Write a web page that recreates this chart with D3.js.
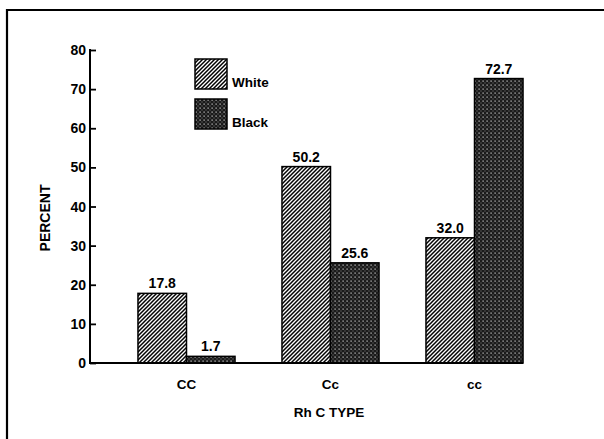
<!DOCTYPE html>
<html>
<head>
<meta charset="utf-8">
<script src="https://cdn.jsdelivr.net/npm/d3@7"></script>
<style>
  html, body { margin: 0; padding: 0; background: #fff; overflow: hidden; }
  svg { display: block; }
  text { font-family: "Liberation Sans", Arial, Helvetica, sans-serif; font-weight: bold; fill: #000; }
</style>
</head>
<body>
<svg id="chart" width="604" height="439"></svg>
<script>
const categories = ["CC", "Cc", "cc"];
const seriesNames = ["White", "Black"];
const whiteValues = [17.8, 50.2, 32.0];
const blackValues = [1.7, 25.6, 72.7];
const valueLabels = [["17.8", "1.7"], ["50.2", "25.6"], ["32.0", "72.7"]];
const yTicks = [0, 10, 20, 30, 40, 50, 60, 70, 80];
const yTitle = "PERCENT";
const xTitle = "Rh C TYPE";

const svg = d3.select("#chart");
const defs = svg.append("defs");

// diagonal hatch for White
const hatch = defs.append("pattern")
  .attr("id", "hatch").attr("patternUnits", "userSpaceOnUse")
  .attr("width", 4).attr("height", 4);
hatch.append("rect").attr("width", 4).attr("height", 4).attr("fill", "#fff");
hatch.append("path")
  .attr("d", "M-1,1 l2,-2 M0,4 l4,-4 M3,5 l2,-2")
  .attr("stroke", "#000").attr("stroke-width", 1.5);

// dark dotted pattern for Black
const dots = defs.append("pattern")
  .attr("id", "dots").attr("patternUnits", "userSpaceOnUse")
  .attr("width", 4).attr("height", 4);
dots.append("rect").attr("width", 4).attr("height", 4).attr("fill", "#1a1a1a");
dots.append("rect").attr("x", 0.5).attr("y", 0.5).attr("width", 1.2).attr("height", 1.2).attr("fill", "#d8d8d8");
dots.append("rect").attr("x", 2.5).attr("y", 2.5).attr("width", 1).attr("height", 1).attr("fill", "#888");

const fills = { White: "url(#hatch)", Black: "url(#dots)" };

// frame
svg.append("line").attr("x1", 7).attr("x2", 604).attr("y1", 10).attr("y2", 10)
  .attr("stroke", "#000").attr("stroke-width", 2.2);
svg.append("line").attr("x1", 7).attr("x2", 7).attr("y1", 9).attr("y2", 439)
  .attr("stroke", "#000").attr("stroke-width", 2.2);

const y = d3.scaleLinear().domain([0, 80]).range([363, 50]);
const x0 = d3.scaleBand().domain(categories).range([114.5, 546.5])
  .paddingInner(0.326).paddingOuter(0.163);
const x1 = d3.scaleBand().domain(seriesNames).range([0, x0.bandwidth()]);

const data = categories.map((c, i) => ({
  cat: c,
  vals: [
    { s: "White", v: whiteValues[i], label: valueLabels[i][0] },
    { s: "Black", v: blackValues[i], label: valueLabels[i][1] }
  ]
}));

// y axis
const yAxis = d3.axisRight(y).tickValues(yTicks).tickSize(6).tickFormat("");
const gy = svg.append("g").attr("transform", "translate(90,0)").call(yAxis);
gy.select(".domain").remove();
gy.selectAll(".tick line").attr("stroke", "#000").attr("stroke-width", 1.8);
svg.append("line").attr("x1", 90).attr("x2", 90).attr("y1", y(80) - 1).attr("y2", y(0) + 1)
  .attr("stroke", "#000").attr("stroke-width", 2);
svg.append("g").selectAll("text").data(yTicks).join("text")
  .attr("x", 86).attr("y", d => y(d)).attr("dy", "0.36em")
  .attr("text-anchor", "end").attr("font-size", 14).text(d => d);

// bars
const groups = svg.append("g").selectAll("g").data(data).join("g")
  .attr("transform", d => `translate(${x0(d.cat)},0)`);
groups.selectAll("rect").data(d => d.vals).join("rect")
  .attr("x", d => x1(d.s)).attr("width", x1.bandwidth())
  .attr("y", d => y(d.v)).attr("height", d => y(0) - y(d.v))
  .attr("fill", d => fills[d.s]).attr("stroke", "#000").attr("stroke-width", 1.5);
groups.selectAll("text").data(d => d.vals).join("text")
  .attr("x", d => x1(d.s) + x1.bandwidth() / 2).attr("y", d => y(d.v) - 5)
  .attr("text-anchor", "middle").attr("font-size", 14).text(d => d.label);

// baseline
svg.append("line").attr("x1", 89).attr("x2", x0(categories[2]) + x0.bandwidth())
  .attr("y1", y(0)).attr("y2", y(0)).attr("stroke", "#000").attr("stroke-width", 2);

// category labels
svg.append("g").selectAll("text").data(categories).join("text")
  .attr("x", d => x0(d) + x0.bandwidth() / 2).attr("y", 389)
  .attr("text-anchor", "middle").attr("font-size", 13.5).text(d => d);

// axis titles
svg.append("text").attr("x", 329).attr("y", 417).attr("text-anchor", "middle")
  .attr("font-size", 13.5).text(xTitle);
svg.append("text").attr("transform", "translate(50,218) rotate(-90)")
  .attr("text-anchor", "middle").attr("font-size", 14).text(yTitle);

// legend
const legend = svg.append("g").selectAll("g").data(seriesNames).join("g")
  .attr("transform", (d, i) => `translate(195,${59 + i * 40})`);
legend.append("rect").attr("width", 32).attr("height", 30)
  .attr("fill", d => fills[d]).attr("stroke", "#000").attr("stroke-width", 1.5);
legend.append("text").attr("x", 37).attr("y", 28).attr("font-size", 13.5).text(d => d);
</script>
</body>
</html>
